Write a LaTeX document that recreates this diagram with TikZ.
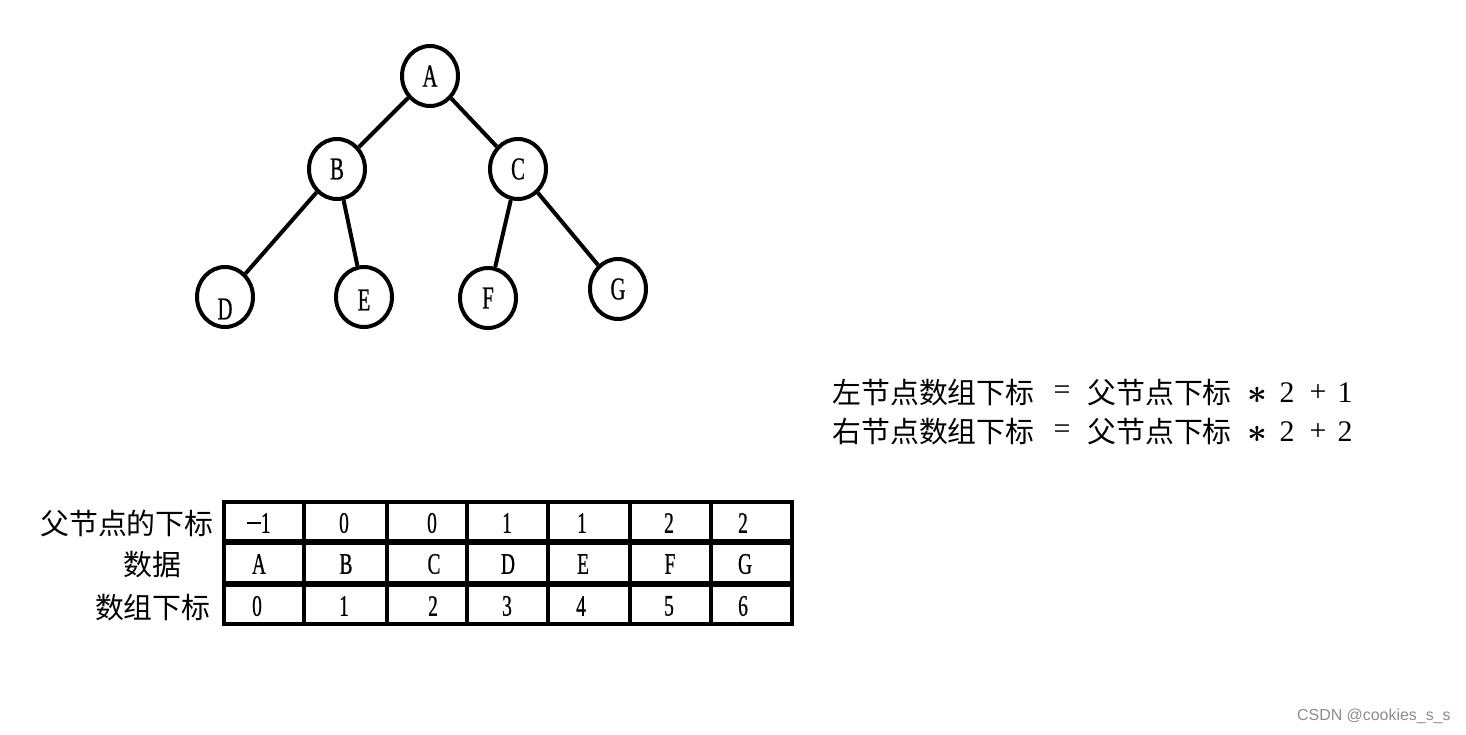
\documentclass[tikz,border=0pt]{standalone}
\usepackage{amsmath}
\usepackage{fontspec}
\setmainfont{Liberation Serif}
\newfontfamily\cjk{Noto Sans CJK SC}
\newfontfamily\lat[FakeStretch=0.65,FakeBold=0.6]{Liberation Serif}
\newfontfamily\wm{Liberation Sans}
\usetikzlibrary{shapes.geometric}
\begin{document}
\begin{tikzpicture}[x=0.5bp,y=-0.5bp,
  tn/.style={draw,line width=2bp,ellipse,minimum width=28bp,minimum height=30bp,inner sep=0pt,font=\lat\fontsize{16}{16}\selectfont},
  edge/.style={line width=2bp},
  grid/.style={line width=2bp},
  cell/.style={inner sep=0pt,font=\lat\fontsize{15}{15}\selectfont},
  rowlab/.style={inner sep=0pt,font=\cjk\fontsize{14.5}{15}\selectfont},
  ftxt/.style={inner sep=0pt,font=\cjk\fontsize{14.5}{15}\selectfont},
  fsym/.style={inner sep=0pt,font=\fontsize{15}{15}\selectfont}]
\useasboundingbox (0,0) rectangle (1466,734);
% tree
\node[tn] (A) at (430,76) {A};
\node[tn] (B) at (337,169) {B};
\node[tn] (C) at (518,169) {C};
\node[tn] (D) at (225,297) {\raisebox{-6bp}[\height][\depth]{D}};
\node[tn] (E) at (364,297) {\raisebox{-1.5bp}[\height][\depth]{E}};
\node[tn] (F) at (488,298) {F};
\node[tn] (G) at (618,289) {G};
\draw[edge] (A) -- (B);
\draw[edge] (A) -- (C);
\draw[edge] (B) -- (D);
\draw[edge] (B) -- (E);
\draw[edge] (C) -- (F);
\draw[edge] (C) -- (G);
% formulas
\node[ftxt,anchor=west] (l1) at (832,393) {左节点数组下标};
\node[fsym] (l1eq) at (1062,393) {=};
\node[ftxt,anchor=west] (l1p) at (1087,393) {父节点下标};
\node[inner sep=0pt,font=\fontsize{17}{17}\selectfont] (l1m) at (1257,395) {$\boldsymbol{\ast}$};
\node[fsym] (l1two) at (1287,393) {2};
\node[fsym] (l1plus) at (1318,393) {+};
\node[fsym] (l1one) at (1345,393) {1};
\node[ftxt,anchor=west] (l2) at (832,432) {右节点数组下标};
\node[fsym] (l2eq) at (1062,432) {=};
\node[ftxt,anchor=west] (l2p) at (1087,432) {父节点下标};
\node[inner sep=0pt,font=\fontsize{17}{17}\selectfont] (l2m) at (1257,434) {$\boldsymbol{\ast}$};
\node[fsym] (l2two) at (1287,432) {2};
\node[fsym] (l2plus) at (1318,432) {+};
\node[fsym] (l2one) at (1345,432) {2};
% table grid
\draw[grid] (224,502) rectangle (792,624);
\draw[line width=3bp] (224,542) -- (792,542);
\draw[line width=3bp] (224,584) -- (792,584);
\foreach \x in {304,387,467,548,630,711} \draw[grid] (\x,502) -- (\x,624);
% row labels
\node[rowlab,anchor=east] (r1) at (214,523) {父节点的下标};
\node[rowlab] (r2) at (152,565) {数据};
\node[rowlab,anchor=east] (r3) at (211,608) {数组下标};
% cells
\foreach \x/\t [count=\i] in {259/{\rule[0.3em]{0.45em}{0.07em}1},344/0,432/0,507/1,582/1,669/2,743/2}
  \node[cell] (p\i) at (\x,523) {\t};
\foreach \x/\t [count=\i] in {259/A,346/B,434/C,508/D,583/E,670/F,745/G}
  \node[cell] (d\i) at (\x,564) {\t};
\foreach \x/\t [count=\i] in {257/0,344/1,433/2,507/3,581/4,669/5,743/6}
  \node[cell] (k\i) at (\x,606) {\t};
% watermark
\node[inner sep=0pt,anchor=east,text=black!45,font=\wm\fontsize{8}{8}\selectfont] (wm) at (1451,716) {CSDN @cookies\_s\_s};
\end{tikzpicture}
\end{document}
